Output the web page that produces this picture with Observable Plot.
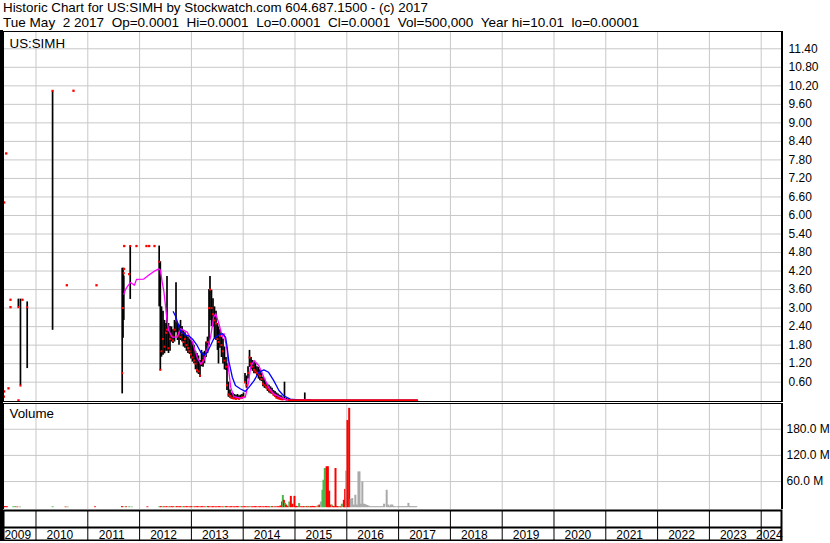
<!DOCTYPE html>
<html><head><meta charset="utf-8">
<script src="https://cdn.jsdelivr.net/npm/d3@7"></script>
<script src="https://cdn.jsdelivr.net/npm/@observablehq/plot@0.6"></script>
<style>
html,body{margin:0;padding:0;background:#fff;}
body{width:830px;height:543px;overflow:hidden;font-family:"Liberation Sans",Arial,sans-serif;}
#hdr{height:30px;box-sizing:border-box;padding:1px 0 0 3px;font-size:13.33px;line-height:14.6px;color:#000;white-space:pre;}
#hdr span{display:inline-block;transform-origin:0 0;}
#chart{border-left:3px solid #000;width:827px;height:511px;}
#chart svg{display:block;}
</style></head><body>
<div id="hdr"><div><span id="h1"></span></div><div><span id="h2"></span></div></div>
<div id="chart"></div>
<script>
// ---------- text ----------
const headerLines = [
  "Historic Chart for US:SIMH by Stockwatch.com 604.687.1500 - (c) 2017",
  "Tue May  2 2017  Op=0.0001  Hi=0.0001  Lo=0.0001  Cl=0.0001  Vol=500,000  Year hi=10.01  lo=0.00001"
];
const headerWidths = [425, 636];
const symbolLabel = "US:SIMH";
const volumeLabel = "Volume";

// ---------- axes ----------
const yearTicks = [2010,2011,2012,2013,2014,2015,2016,2017,2018,2019,2020,2021,2022,2023,2024];
const yearLabels = [2009,2010,2011,2012,2013,2014,2015,2016,2017,2018,2019,2020,2021,2022,2023,2024];
const priceTicks = [0.6,1.2,1.8,2.4,3.0,3.6,4.2,4.8,5.4,6.0,6.6,7.2,7.8,8.4,9.0,9.6,10.2,10.8,11.4];
const volTicks = [60,120,180];

// ---------- price bars (decimal year, high, low, close) ----------
const barT = [
  2009.66, 2009.70, 2009.83, 2010.32, 2011.664, 2011.680, 2011.695, 2011.819, 2012.378, 2012.400,
  2012.423, 2012.452, 2012.481, 2012.510, 2012.529, 2012.558, 2012.587, 2012.616, 2012.645, 2012.674,
  2012.703, 2012.732, 2012.761, 2012.790, 2012.819, 2012.847, 2012.876, 2012.905, 2012.934, 2012.963,
  2012.992, 2013.021, 2013.050, 2013.079, 2013.108, 2013.137, 2013.166, 2013.195, 2013.224, 2013.253,
  2013.282, 2013.311, 2013.340, 2013.359, 2013.388, 2013.417, 2013.446, 2013.475, 2013.504, 2013.523,
  2013.552, 2013.581, 2013.610, 2013.639, 2013.668, 2013.687, 2013.716, 2013.745, 2013.774, 2013.803,
  2013.832, 2013.861, 2013.890, 2013.919, 2013.948, 2013.977, 2014.006, 2014.035, 2014.064, 2014.093,
  2014.122, 2014.151, 2014.180, 2014.208, 2014.237, 2014.266, 2014.295, 2014.324, 2014.353, 2014.382,
  2014.411, 2014.440, 2014.469, 2014.498, 2014.527, 2014.556, 2014.585, 2014.614, 2014.643, 2014.672,
  2014.701, 2014.730, 2014.759, 2014.797, 2014.836, 2014.875, 2015.189
];
const barHi = [
  3.29, 3.29, 3.20, 10.04, 4.29, 4.29, 4.04, 5.01, 5.01, 4.50,
  3.04, 2.90, 2.60, 2.50, 4.02, 2.50, 2.40, 2.39, 2.30, 2.60,
  3.82, 2.50, 2.45, 2.60, 2.40, 2.28, 2.20, 2.12, 2.06, 2.00,
  1.95, 1.90, 1.80, 1.60, 1.53, 1.45, 1.30, 1.63, 1.55, 1.60,
  1.90, 2.06, 3.60, 4.02, 3.58, 3.30, 3.04, 2.90, 2.50, 2.39,
  2.30, 2.06, 2.00, 1.74, 1.40, 1.20, 0.60, 0.35, 0.25, 0.23,
  0.20, 0.18, 0.20, 0.16, 0.18, 0.20, 0.25, 0.88, 0.80, 1.10,
  1.63, 1.40, 1.30, 1.25, 1.20, 1.10, 1.08, 1.00, 0.90, 0.76,
  0.70, 0.60, 0.54, 0.50, 0.45, 0.40, 0.33, 0.30, 0.25, 0.22,
  0.18, 0.16, 0.12, 0.60, 0.08, 0.06, 0.25
];
const barLo = [
  3.03, 0.49, 1.04, 2.28, 0.22, 2.02, 2.60, 3.28, 3.04, 0.98,
  1.41, 1.47, 1.52, 1.60, 1.60, 1.53, 1.60, 1.90, 1.85, 1.90,
  2.20, 1.95, 1.80, 1.95, 1.90, 1.74, 1.70, 1.60, 1.53, 1.50,
  1.35, 1.25, 1.20, 1.00, 0.90, 0.85, 0.75, 1.10, 1.08, 1.20,
  1.40, 1.53, 1.80, 2.60, 2.40, 2.39, 2.00, 1.95, 1.63, 1.19,
  1.70, 1.40, 1.19, 1.00, 0.98, 0.33, 0.11, 0.08, 0.05, 0.05,
  0.05, 0.04, 0.05, 0.04, 0.05, 0.05, 0.08, 0.55, 0.40, 0.70,
  1.08, 1.00, 0.95, 0.87, 0.87, 0.80, 0.70, 0.65, 0.62, 0.45,
  0.40, 0.38, 0.30, 0.25, 0.22, 0.20, 0.15, 0.10, 0.06, 0.05,
  0.04, 0.03, 0.02, 0.02, 0.01, 0.01, 0.01
];
const barCl = [
  3.03, 0.49, 3.03, 10.04, 0.89, 3.00, 4.13, 5.01, 4.50, 1.00,
  1.60, 2.00, 1.75, 2.20, 2.30, 1.70, 2.00, 2.10, 1.95, 2.30,
  2.60, 2.10, 2.20, 2.06, 2.20, 1.90, 2.00, 1.80, 1.70, 1.60,
  1.50, 1.40, 1.30, 1.20, 1.00, 0.95, 0.81, 1.20, 1.30, 1.40,
  1.60, 1.90, 3.00, 3.60, 3.00, 2.80, 2.60, 2.50, 2.00, 1.90,
  2.10, 1.80, 1.60, 1.30, 1.10, 0.50, 0.20, 0.15, 0.10, 0.08,
  0.07, 0.06, 0.08, 0.06, 0.08, 0.10, 0.12, 0.60, 0.50, 0.90,
  1.40, 1.20, 1.10, 1.00, 0.95, 0.90, 0.85, 0.80, 0.70, 0.55,
  0.50, 0.45, 0.40, 0.35, 0.30, 0.25, 0.20, 0.15, 0.10, 0.08,
  0.06, 0.05, 0.04, 0.05, 0.03, 0.02, 0.03
];

// ---------- isolated trade ticks ----------
const dotT = [2009.385, 2009.425, 2009.385, 2009.469, 2009.378, 2009.662, 2009.508, 2009.508, 2009.739, 2010.724,
              2010.595, 2011.168, 2011.703, 2011.799, 2011.940, 2012.133, 2012.185, 2012.288, 2011.700];
const dotV = [6.42, 8.01, 0.30, 0.40, 0.13, 0.01, 3.27, 3.03, 3.27, 10.04,
              3.74, 3.74, 5.01, 4.10, 5.01, 5.01, 5.01, 5.01, 4.27];

// ---------- moving averages ----------
const magT = [2011.695, 2011.728, 2011.76, 2011.824, 2011.90, 2011.94, 2012.08, 2012.18, 2012.27, 2012.37,
              2012.40, 2012.44, 2012.47, 2012.53, 2012.56, 2012.63, 2012.73, 2012.79, 2012.92, 2013.02,
              2013.11, 2013.18, 2013.24, 2013.30, 2013.37, 2013.43, 2013.47, 2013.53, 2013.60, 2013.63,
              2013.69, 2013.72, 2013.76, 2013.82, 2013.95, 2014.04, 2014.11, 2014.14, 2014.21, 2014.30,
              2014.40, 2014.49, 2014.59, 2014.72, 2014.85, 2015.10, 2015.30];
const magV = [3.45, 3.60, 3.69, 3.83, 3.74, 3.93, 3.94, 4.07, 4.18, 4.27,
              4.23, 3.80, 3.53, 2.60, 2.28, 2.06, 2.06, 2.33, 2.22, 1.90,
              1.41, 1.19, 1.30, 1.63, 2.06, 2.71, 2.82, 2.50, 2.06, 2.17,
              1.63, 0.98, 0.43, 0.13, 0.08, 0.11, 0.65, 1.08, 1.30, 1.14,
              0.76, 0.43, 0.22, 0.11, 0.02, 0.03, 0.03];
const bluT = [2012.65, 2012.69, 2012.73, 2012.79, 2012.89, 2012.95, 2013.02, 2013.11, 2013.18, 2013.24,
              2013.30, 2013.37, 2013.43, 2013.52, 2013.60, 2013.66, 2013.69, 2013.72, 2013.79, 2013.85,
              2013.95, 2014.04, 2014.11, 2014.21, 2014.30, 2014.40, 2014.49, 2014.59, 2014.69, 2014.78,
              2014.91, 2015.11, 2017.36];
const bluV = [2.88, 2.75, 2.55, 2.25, 2.12, 2.10, 2.00, 1.79, 1.57, 1.47,
              1.55, 1.79, 2.00, 2.12, 2.17, 2.06, 1.74, 1.30, 0.76, 0.49,
              0.38, 0.30, 0.43, 0.65, 0.92, 1.00, 0.92, 0.65, 0.33, 0.16,
              0.05, 0.02, 0.02];
const closeFlatT = [2014.88, 2017.36];
const closeFlatV = [0.015, 0.015];

// ---------- volume (decimal year, millions, colour code) ----------
const volT = [
  2009.38, 2009.41, 2009.44, 2009.56, 2009.60, 2009.64, 2009.69, 2010.32, 2010.57, 2010.61,
  2011.14, 2011.66, 2011.69, 2011.74, 2011.80, 2011.85, 2012.15, 2012.38, 2012.41, 2012.45,
  2012.48, 2012.52, 2012.55, 2012.58, 2012.62, 2012.65, 2012.69, 2012.72, 2012.76, 2012.79,
  2012.83, 2012.86, 2012.90, 2012.93, 2012.97, 2013.00, 2013.04, 2013.07, 2013.11, 2013.14,
  2013.18, 2013.21, 2013.25, 2013.28, 2013.32, 2013.35, 2013.39, 2013.42, 2013.46, 2013.49,
  2013.53, 2013.56, 2013.60, 2013.63, 2013.67, 2013.70, 2013.74, 2013.77, 2013.81, 2013.84,
  2013.88, 2013.91, 2013.95, 2013.98, 2014.02, 2014.05, 2014.09, 2014.12, 2014.16, 2014.19,
  2014.23, 2014.26, 2014.30, 2014.33, 2014.37, 2014.40, 2014.44, 2014.47, 2014.50, 2014.53,
  2014.56, 2014.59, 2014.62, 2014.66, 2014.69, 2014.72, 2014.75, 2014.765, 2014.785, 2014.81,
  2014.83, 2014.86, 2014.89, 2014.92, 2014.95, 2014.99, 2015.02, 2015.05, 2015.08, 2015.11,
  2015.14, 2015.17, 2015.20, 2015.23, 2015.25, 2015.28, 2015.31, 2015.34, 2015.37, 2015.40,
  2015.44, 2015.47, 2015.50, 2015.53, 2015.55, 2015.575, 2015.61, 2015.635, 2015.66, 2015.685,
  2015.71, 2015.737, 2015.76, 2015.782, 2015.81, 2015.833, 2015.86, 2015.88, 2015.904, 2015.943,
  2015.968, 2015.988, 2016.013, 2016.046, 2016.075, 2016.105, 2016.135, 2016.165, 2016.195, 2016.225,
  2016.245, 2016.27, 2016.30, 2016.33, 2016.36, 2016.39, 2016.42, 2016.45, 2016.48, 2016.51,
  2016.54, 2016.57, 2016.60, 2016.63, 2016.66, 2016.69, 2016.72, 2016.77, 2016.80, 2016.83,
  2016.85, 2016.88, 2016.91, 2016.94, 2016.98, 2017.01, 2017.04, 2017.07, 2017.10, 2017.13,
  2017.16, 2017.19, 2017.22, 2017.25, 2017.28, 2017.31, 2017.34
];
const volV = [
  2.5, 2.5, 2, 2, 2.5, 1.5, 1.5, 2, 1.5, 1.5,
  2, 2.5, 2, 2, 2, 1.5, 2, 2, 2.5, 2,
  2, 2.5, 1.5, 2, 2.5, 2, 2, 2.5, 2, 2.5,
  2, 2, 2.5, 2, 2, 2.5, 2, 2, 2.5, 2,
  2, 2.5, 2, 2, 2.5, 2, 2, 2.5, 2, 2,
  2.5, 2, 2, 2, 2.5, 2, 2, 2.5, 2, 2,
  2.5, 2, 2, 2, 2.5, 2, 2, 2.5, 2, 2,
  2.5, 2, 2, 2.5, 2, 2, 2.5, 2, 2, 2,
  2.5, 2, 2, 2.5, 2, 4, 13, 28, 17, 10,
  6, 3, 13, 26, 8, 26, 3, 2.5, 9.5, 2,
  2, 2.5, 2.5, 2.5, 3, 2, 2.5, 3, 2.5, 2,
  4, 6, 13, 40, 63, 90, 94, 94, 38, 6,
  6, 3, 2, 90, 2.5, 2, 2, 2, 8, 17,
  42, 84, 200, 228, 19, 21, 6, 28.6, 6, 82,
  82, 8, 59, 8, 7, 5, 4, 2.3, 2.3, 2.3,
  2.3, 2.3, 2.3, 2.3, 2.3, 2.5, 8, 40, 6, 2.5,
  6, 6, 2.3, 2.3, 2.5, 2.5, 2.5, 2.5, 2.5, 2.5,
  2.5, 10, 2.5, 2.5, 2.5, 2.5, 2.5
];
const volC = [
  "r","r","r","g","g","r","g","g","r","g",
  "r","r","g","r","g","g","r","g","r","g",
  "r","r","g","r","r","r","g","r","r","r",
  "g","r","r","r","r","r","g","r","r","r",
  "r","r","r","g","r","r","r","r","r","r",
  "r","r","r","g","r","r","r","r","r","r",
  "r","r","g","r","r","r","r","g","r","r",
  "r","r","r","r","r","r","r","r","r","g",
  "r","g","r","r","r","r","r","g","r","g",
  "r","r","g","r","r","r","r","r","g","r",
  "r","r","g","r","g","r","r","r","r","r",
  "g","r","k","g","g","g","r","r","r","r",
  "g","r","r","r","r","r","g","r","g","r",
  "r","k","r","r","k","k","k","k","k","k",
  "k","k","k","k","k","k","k","k","k","k",
  "k","k","k","k","k","k","k","k","k","k",
  "k","k","k","k","k","k","k","k","k","k",
  "k","k","k","k","k","k","k"
];
const volColors = {r: "#ff0000", g: "#4cb84c", k: "#a9a9a9"};

// ---------- build ----------
const bars = barT.map((t, i) => ({t, hi: barHi[i], lo: barLo[i], cl: barCl[i]}));
const ticks = dotT.map((t, i) => ({t, v: dotV[i]}));
const mag = magT.map((t, i) => ({t, v: magV[i]}));
const blu = bluT.map((t, i) => ({t, v: bluV[i]}));
const flat = closeFlatT.map((t, i) => ({t, v: closeFlatV[i]}));
const vols = volT.map((t, i) => ({t, v: volV[i], c: volColors[volC[i]]}));

const X0 = 2009.3726, X1 = 2024.392;
const FONT = "'Liberation Sans', Arial, sans-serif";
const common = {
  width: 827, marginLeft: 0, marginRight: 49,
  x: {type: "linear", domain: [X0, X1], axis: null},
  style: {background: "#fff", color: "#000", fontFamily: FONT, fontSize: "12px", overflow: "hidden"}
};
const GRID = {stroke: "#c8c8c8", strokeOpacity: 1, strokeWidth: 1};

const price = Plot.plot({
  ...common, height: 372, marginTop: 1, marginBottom: 1,
  y: {domain: [-0.026, 11.96], axis: null, label: null},
  marks: [
    Plot.gridX(yearTicks, GRID),
    Plot.gridY(priceTicks, GRID),
    Plot.axisY(priceTicks, {anchor: "right", tickSize: 0, tickPadding: 7, label: null,
      tickFormat: d => d.toFixed(2), fontSize: 12}),
    Plot.ruleX(bars, {x: "t", y1: "lo", y2: "hi", stroke: "#000", strokeWidth: 1.7}),
    Plot.dot(bars, {x: "t", y: "cl", symbol: "square", r: 1.15, fill: "#ff0000", stroke: "none"}),
    Plot.dot(ticks, {x: "t", y: "v", symbol: "square", r: 1.3, fill: "#ff0000", stroke: "none"}),
    Plot.line(mag, {x: "t", y: "v", stroke: "#ff00ff", strokeWidth: 1.3}),
    Plot.line(blu, {x: "t", y: "v", stroke: "#0000ff", strokeWidth: 1.3}),
    Plot.line(flat, {x: "t", y: "v", stroke: "#ff0000", strokeWidth: 2}),
    Plot.text([symbolLabel], {text: d => d, frameAnchor: "top-left", dx: 6, dy: 7, fontSize: 13.33, fill: "#000"}),
    Plot.frame({stroke: "#000", strokeWidth: 1}),
    Plot.frame({stroke: "#000", strokeWidth: 1, insetRight: -1})
  ]
});

const volume = Plot.plot({
  ...common, height: 107, marginTop: 1, marginBottom: 0,
  y: {domain: [-4.13, 239.1], axis: null, label: null},
  marks: [
    Plot.gridX(yearTicks, GRID),
    Plot.gridY(volTicks, GRID),
    Plot.axisY(volTicks, {anchor: "right", tickSize: 0, tickPadding: 5, label: null,
      tickFormat: d => d.toFixed(1) + " M", fontSize: 12}),
    Plot.ruleX(vols, {x: "t", y1: 0, y2: "v", stroke: d => d.c, strokeWidth: 2}),
    Plot.text([volumeLabel], {text: d => d, frameAnchor: "top-left", dx: 6, dy: 5.5, fontSize: 13.33, fill: "#000"}),
    Plot.frame({stroke: "#000", strokeWidth: 1}),
    Plot.frame({stroke: "#000", strokeWidth: 1, insetRight: -1})
  ]
});

const row1 = Plot.plot({
  ...common, height: 18, marginTop: 1, marginBottom: 0,
  y: {axis: null},
  marks: [
    Plot.ruleX(yearTicks, {stroke: "#000", strokeWidth: 1}),
    Plot.frame({stroke: "#000", strokeWidth: 2})
  ]
});

const labelPos = y => (Math.max(y, X0) + Math.min(y + 1, X1)) / 2;
const row2 = Plot.plot({
  ...common, height: 14, marginTop: 0, marginBottom: 1,
  y: {axis: null},
  marks: [
    Plot.ruleX(yearTicks, {stroke: "#000", strokeWidth: 1}),
    Plot.text(yearLabels, {x: d => labelPos(d), text: d => String(d), frameAnchor: "middle",
      dx: -2, dy: 1, fontSize: 12, fill: "#000"}),
    Plot.frame({stroke: "#000", strokeWidth: 2})
  ]
});

const chart = document.getElementById("chart");
[price, volume, row1, row2].forEach(s => chart.appendChild(s));

// header text, fitted to the reference widths
["h1", "h2"].forEach((id, i) => {
  const el = document.getElementById(id);
  el.textContent = headerLines[i];
  const w = el.getBoundingClientRect().width;
  if (w > 0) el.style.transform = `scaleX(${headerWidths[i] / w})`;
});
</script>
</body></html>
